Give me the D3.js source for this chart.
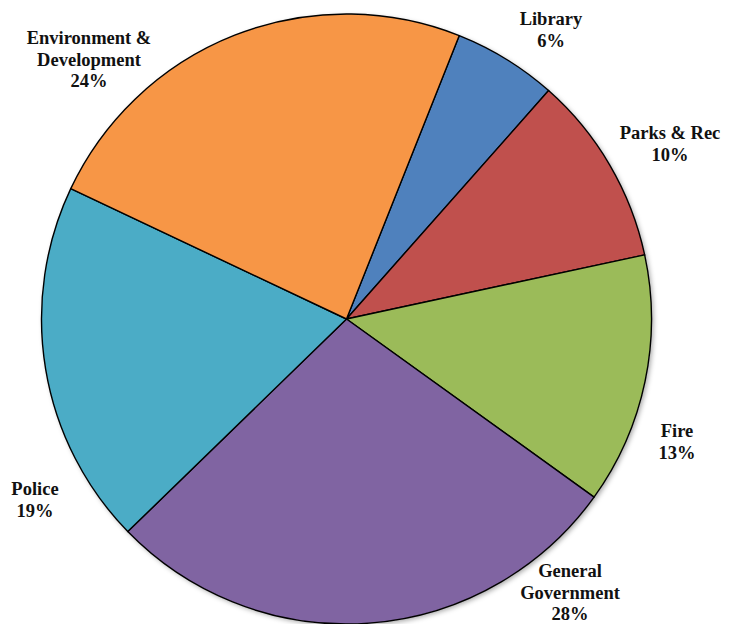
<!DOCTYPE html>
<html>
<head>
<meta charset="utf-8">
<script src="https://cdn.jsdelivr.net/npm/d3@7"></script>
<style>
  html, body { margin: 0; padding: 0; background: #fff; }
  svg { display: block; }
  .lbl { font-family: "Liberation Serif", "Times New Roman", serif; font-weight: bold; font-size: 18.5px; fill: #111; }
</style>
</head>
<body>
<svg width="738" height="624"></svg>
<script>
////////////////////////////// DATA //////////////////////////////

// slices in drawing order, clockwise
var categories = ['Library', 'Parks & Rec', 'Fire', 'General Government', 'Police', 'Environment & Development'];
var shares     = [5.5, 10.1, 13.3, 27.8, 19.3, 24.0];
var pctLabels  = ['6%', '10%', '13%', '28%', '19%', '24%'];
var labelLines = [['Library'], ['Parks & Rec'], ['Fire'], ['General', 'Government'], ['Police'], ['Environment &', 'Development']];

////////////////////////////// LAYOUT //////////////////////////////

var svg = d3.select('svg'),
    width = +svg.attr('width'),
    height = +svg.attr('height');

var cx = 346.5, cy = 319, radius = 305;
var firstAngle = 21.7 * Math.PI / 180;   // first slice offset, like excel's "angle of first slice"
var lineH = 21.5;

var colors = ['#4f81bd', '#c0504d', '#9bbb59', '#8064a2', '#4bacc6', '#f79646'];

// label block anchor (centre x, first baseline y) -- excel's best-fit spots
var labelAnchor = [[551, 25], [670, 139], [677, 437], [570, 577], [35, 495], [89, 44]];

////////////////////////////// DRAW //////////////////////////////

var defs = svg.append('defs');
var shadow = defs.append('filter').attr('id', 'shadow')
    .attr('x', '-10%').attr('y', '-10%').attr('width', '120%').attr('height', '120%');
shadow.append('feDropShadow')
    .attr('dx', 2).attr('dy', 2).attr('stdDeviation', 2.5)
    .attr('flood-color', '#000').attr('flood-opacity', 0.35);

var pie = d3.pie().sort(null).value(function(d) { return d; })
    .startAngle(firstAngle).endAngle(firstAngle + 2 * Math.PI);
var arc = d3.arc().innerRadius(0).outerRadius(radius);

var g = svg.append('g').attr('transform', 'translate(' + cx + ',' + cy + ')');

// soft shadow under the whole pie
g.append('circle').attr('r', radius).attr('fill', '#fff').attr('filter', 'url(#shadow)');

g.selectAll('path.slice')
    .data(pie(shares))
    .enter().append('path')
    .attr('class', 'slice')
    .attr('d', arc)
    .attr('fill', function(d, i) { return colors[i]; })
    .attr('stroke', '#000')
    .attr('stroke-width', 1.4)
    .attr('stroke-linejoin', 'round');

var labels = svg.append('g').attr('class', 'labels');
categories.forEach(function(name, i) {
    var lines = labelLines[i].concat([pctLabels[i]]);
    var t = labels.append('text').attr('class', 'lbl')
        .attr('text-anchor', 'middle')
        .attr('x', labelAnchor[i][0])
        .attr('y', labelAnchor[i][1]);
    lines.forEach(function(s, k) {
        t.append('tspan')
            .attr('x', labelAnchor[i][0])
            .attr('y', labelAnchor[i][1] + k * lineH)
            .text(s);
    });
});
</script>
</body>
</html>
